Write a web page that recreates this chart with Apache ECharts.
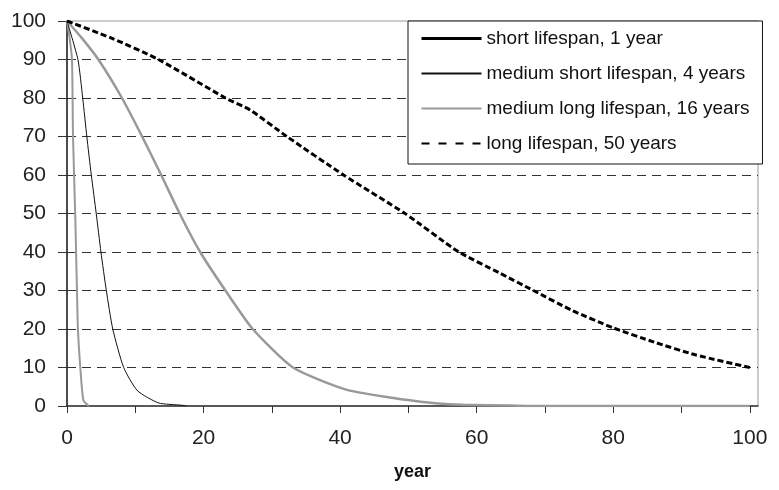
<!DOCTYPE html>
<html>
<head>
<meta charset="utf-8">
<title>Lifespan survival curves</title>
<script src="https://cdn.jsdelivr.net/npm/echarts@6/dist/echarts.min.js"></script>
<style>
  html, body { margin: 0; padding: 0; background: #fff; }
  #chart { width: 779px; height: 490px; }
</style>
</head>
<body>
<div id="chart"></div>
<script>
// series names
var seriesNames = [
  'short lifespan, 1 year',
  'medium short lifespan, 4 years',
  'medium long lifespan, 16 years',
  'long lifespan, 50 years'
]

// [year, percent remaining]
var shortLife = [
  [0, 100], [0.35, 96], [0.73, 90], [0.88, 70], [1.2, 50], [1.46, 30],
  [1.6, 20], [1.95, 10], [2.4, 1.5], [3.2, 0]
]
var mediumShortLife = [
  [0, 100], [1.6, 90], [2.3, 80], [2.9, 70], [3.56, 60], [4.28, 50],
  [4.97, 40], [5.76, 30], [6.7, 20], [8.3, 10], [10.3, 4], [13.4, 0.8],
  [16.8, 0.2], [17.5, 0]
]
var mediumLongLife = [
  [0, 100], [2.3, 95.3], [4.6, 90], [8.05, 80], [11, 70], [13.8, 60],
  [16.5, 50], [19.5, 40], [23.2, 30], [27.2, 20], [33.1, 10], [41, 4.2],
  [49.7, 1.6], [54, 0.7], [58, 0.3], [65, 0.1], [68, 0], [100, 0]
]
var longLife = [
  [0, 100], [6.6, 95.5], [13.4, 90], [23.2, 80], [26.8, 76.9], [32.2, 70],
  [40.5, 60], [49.5, 50], [57.3, 40.1], [63.4, 34.5], [68.3, 30], [74, 24.8],
  [80, 20.3], [86, 16.6], [92, 13.3], [100, 10]
]

// axis ticks / labels
var xTicks = [0, 10, 20, 30, 40, 50, 60, 70, 80, 90, 100]
var xLabels = [0, 20, 40, 60, 80, 100]

var font = 'Liberation Sans, Arial, sans-serif'
var chart = echarts.init(document.getElementById('chart'), null, { renderer: 'canvas' })

chart.setOption({
  animation: false,
  backgroundColor: '#fff',
  textStyle: { fontFamily: font },
  grid: {
    left: 67,
    right: 21,
    top: 21,
    bottom: 84,
    show: true,
    borderColor: '#999',
    borderWidth: 1,
    containLabel: false,
    outerBoundsMode: 'none'
  },
  legend: {
    orient: 'vertical',
    left: 408,
    top: 21,
    padding: [8, 13, 11, 12],
    itemGap: 16,
    itemWidth: 60,
    itemHeight: 14,
    backgroundColor: '#fff',
    borderColor: '#111',
    borderWidth: 1,
    borderRadius: 0,
    // hide the circle that line series put in the middle of the icon
    itemStyle: { opacity: 0 },
    textStyle: { fontSize: 19, color: '#111', fontFamily: font },
    data: [
      { name: seriesNames[0], lineStyle: { color: '#000', width: 3 } },
      { name: seriesNames[1] },
      { name: seriesNames[2] },
      { name: seriesNames[3], lineStyle: { type: [8, 9] } }
    ]
  },
  xAxis: {
    type: 'value',
    min: 0,
    max: 101.2,
    name: 'year',
    nameLocation: 'middle',
    nameGap: 57,
    nameTextStyle: { fontSize: 18, fontWeight: 'bold', color: '#111', fontFamily: font },
    axisLine: { lineStyle: { color: '#333', width: 1.5 } },
    axisTick: { length: 7, customValues: xTicks, lineStyle: { color: '#333' } },
    axisLabel: { customValues: xLabels, margin: 22, fontSize: 21, color: '#222', fontFamily: font },
    splitLine: { show: false }
  },
  yAxis: {
    type: 'value',
    min: 0,
    max: 100,
    interval: 10,
    axisLine: { show: true, lineStyle: { color: '#222', width: 1.5 } },
    axisTick: { show: true, length: 9, lineStyle: { color: '#333' } },
    axisLabel: { margin: 21, fontSize: 21, color: '#222', fontFamily: font },
    splitLine: {
      show: true,
      showMinLine: false,
      showMaxLine: false,
      lineStyle: { color: '#333', width: 1.2, type: [9, 6] }
    }
  },
  series: [
    {
      name: seriesNames[0],
      type: 'line',
      data: shortLife,
      symbol: 'none',
      smooth: 0.2,
      lineStyle: { color: '#999', width: 2 },
      itemStyle: { color: '#000' }
    },
    {
      name: seriesNames[1],
      type: 'line',
      data: mediumShortLife,
      symbol: 'none',
      smooth: 0.2,
      lineStyle: { color: '#111', width: 1 },
      itemStyle: { color: '#111' }
    },
    {
      name: seriesNames[2],
      type: 'line',
      data: mediumLongLife,
      symbol: 'none',
      smooth: 0.2,
      lineStyle: { color: '#999', width: 2.5 },
      itemStyle: { color: '#999' }
    },
    {
      name: seriesNames[3],
      type: 'line',
      data: longLife,
      symbol: 'none',
      smooth: 0.2,
      lineStyle: { color: '#000', width: 3, type: [6, 3] },
      itemStyle: { color: '#000' }
    }
  ]
})
</script>
</body>
</html>
